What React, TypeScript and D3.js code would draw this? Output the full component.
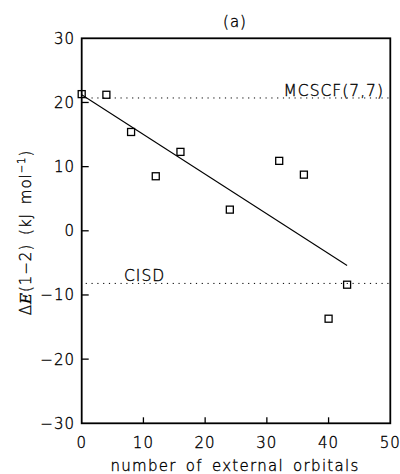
import React from 'react';
import * as d3 from 'd3';

// values
const orbitals = [0, 4, 8, 12, 16, 24, 32, 36, 40, 43];
const deltaE = [21.3, 21.2, 15.4, 8.5, 12.3, 3.3, 10.9, 8.75, -13.7, -8.4];

// fitted straight line, end points
const fitX = [0, 43];
const fitY = [21.2, -5.4];

// reference levels (dotted)
const refNames = ['MCSCF(7,7)', 'CISD'];
const refValues = [20.7, -8.2];

const xTicks = [0, 10, 20, 30, 40, 50];
const yTicks = [-30, -20, -10, 0, 10, 20, 30];

const W = 400;
const H = 474;
const margin = { top: 38.3, right: 9.7, bottom: 50.7, left: 81.7 };
const FONT = '"DejaVu Sans", sans-serif';

export default function App() {
  const x = d3.scaleLinear().domain([0, 50]).range([margin.left, W - margin.right]);
  const y = d3.scaleLinear().domain([-30, 30]).range([H - margin.bottom, margin.top]);

  const fitLine = d3.line<number>()
    .x((d) => x(d))
    .y((_, i) => y(fitY[i]));

  const fmt = (v: number) => (v < 0 ? '\u2212' + Math.abs(v) : String(v));

  // thin but dark glyphs, like the plotter font of the original
  const txt = { stroke: '#000', strokeWidth: 0.35 };

  return (
    <svg
      width={W}
      height={H}
      style={{ position: 'absolute', left: 0, top: 0, background: '#fff' }}
      fontFamily={FONT}
      fontWeight={200}
    >
      {/* title */}
      <text x={235} y={27} fontSize={15} textAnchor="middle" letterSpacing={1} {...txt}>(a)</text>

      {/* dotted reference lines */}
      {refValues.map((v, i) => (
        <line
          key={'ref' + i}
          x1={x(0) + 4}
          x2={x(50)}
          y1={y(v)}
          y2={y(v)}
          stroke="#000"
          strokeWidth={1}
          strokeDasharray="1.2,4.6"
        />
      ))}
      <text x={384} y={y(refValues[0]) - 1.5} fontSize={15.5} textAnchor="end" letterSpacing={1} {...txt}>
        {refNames[0]}
      </text>
      <text x={124} y={y(refValues[1]) - 2.5} fontSize={15.5} letterSpacing={1} {...txt}>
        {refNames[1]}
      </text>

      {/* fit line */}
      <path d={fitLine(fitX) || ''} fill="none" stroke="#000" strokeWidth={1.1} />

      {/* points */}
      {orbitals.map((o, i) => (
        <rect
          key={'p' + i}
          x={x(o) - 3.5}
          y={y(deltaE[i]) - 3.5}
          width={7}
          height={7}
          fill="none"
          stroke="#000"
          strokeWidth={1.3}
        />
      ))}

      {/* frame */}
      <rect
        x={x(0)}
        y={y(30)}
        width={x(50) - x(0)}
        height={y(-30) - y(30)}
        fill="none"
        stroke="#000"
        strokeWidth={1.8}
      />

      {/* y axis ticks */}
      {yTicks.map((t) => (
        <g key={'y' + t}>
          {t > -30 && t < 30 && (
            <line x1={x(0)} x2={x(0) + 7} y1={y(t)} y2={y(t)} stroke="#000" strokeWidth={1.3} />
          )}
          <text
            x={75}
            y={y(t) + 5.5}
            fontSize={15}
            textAnchor="end"
            letterSpacing={1}
            {...txt}
          >
            {fmt(t)}
          </text>
        </g>
      ))}

      {/* x axis ticks */}
      {xTicks.map((t) => (
        <g key={'x' + t}>
          {t > 0 && t < 50 && (
            <line x1={x(t)} x2={x(t)} y1={y(-30)} y2={y(-30) - 6} stroke="#000" strokeWidth={1.3} />
          )}
          <text x={x(t)} y={447.5} fontSize={15} textAnchor="middle" letterSpacing={1} {...txt}>
            {fmt(t)}
          </text>
        </g>
      ))}

      {/* axis titles */}
      <text
        x={235}
        y={470.5}
        fontSize={15}
        textAnchor="middle"
        letterSpacing={1.3}
        wordSpacing={3}
        {...txt}
      >
        number of external orbitals
      </text>
      <text
        transform={`translate(31,${232.5}) rotate(-90)`}
        fontSize={15}
        textAnchor="middle"
        letterSpacing={1}
        wordSpacing={3}
        {...txt}
      >
        <tspan>{'\u0394'}</tspan>
        <tspan fontStyle="italic" fontFamily='"DejaVu Serif", serif'>E</tspan>
        <tspan>(1{'\u2212'}2) (kJ mol</tspan>
        <tspan dy={-6} fontSize={10}>{'\u22121'}</tspan>
        <tspan dy={6}>)</tspan>
      </text>
    </svg>
  );
}
